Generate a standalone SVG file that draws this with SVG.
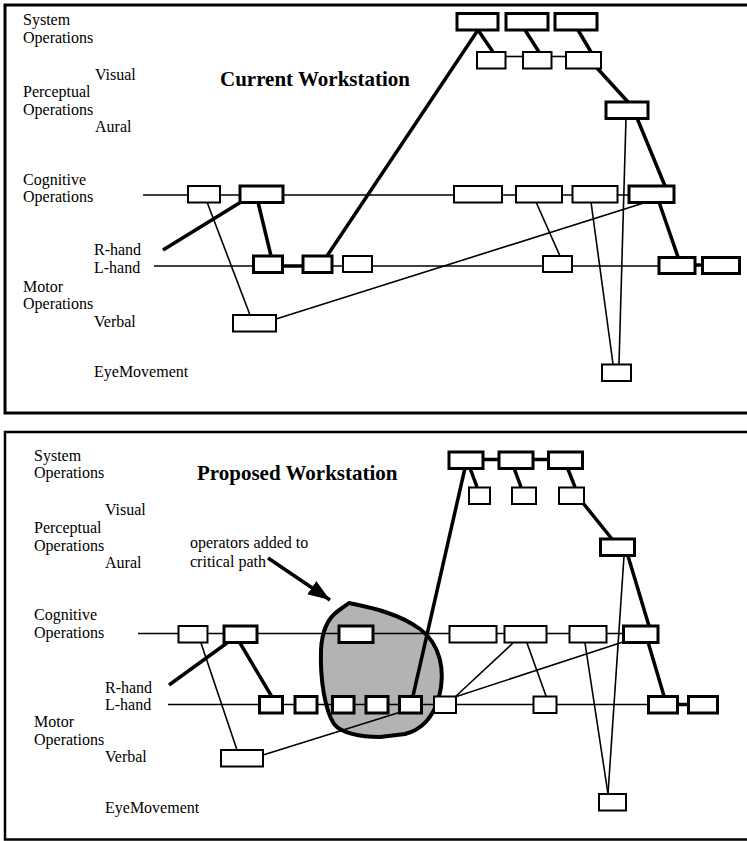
<svg xmlns="http://www.w3.org/2000/svg" width="747" height="841" viewBox="0 0 747 841">
<style>
.t{font-family:"Liberation Serif","Times New Roman",serif;font-size:16px;fill:#000}
.h{font-family:"Liberation Serif","Times New Roman",serif;font-size:21px;font-weight:bold;fill:#000}
.n{fill:#fff;stroke:#000;stroke-width:2}
.nt{fill:#fff;stroke:#000;stroke-width:3}
.l{stroke:#000;stroke-width:1.6;fill:none}
.lt{stroke:#000;stroke-width:3.5;fill:none}
.frame{fill:none;stroke:#000;stroke-width:3}
</style>
<defs>
<marker id="ah" markerUnits="userSpaceOnUse" markerWidth="24" markerHeight="20" viewBox="0 0 24 20" refX="22" refY="10" orient="auto">
<path d="M0,2 L22,10 L0,18 Z" fill="#000"/>
</marker>
</defs>
<rect x="0" y="0" width="747" height="841" fill="#fff"/>

<!-- frames -->
<g id="frames">
<rect class="frame" x="5" y="5" width="760" height="408"/>
<rect x="5" y="432" width="760" height="407.5" fill="none" stroke="#000" stroke-width="2.5"/>
</g>

<!-- ===== TOP PANEL LABELS ===== -->
<g id="top-labels">
<text class="t" x="23" y="25">System</text>
<text class="t" x="23" y="43">Operations</text>
<text class="t" x="95" y="80">Visual</text>
<text class="t" x="23" y="97">Perceptual</text>
<text class="t" x="23" y="115">Operations</text>
<text class="t" x="95" y="132">Aural</text>
<text class="t" x="23" y="185">Cognitive</text>
<text class="t" x="23" y="202">Operations</text>
<text class="t" x="94" y="255">R-hand</text>
<text class="t" x="94" y="273">L-hand</text>
<text class="t" x="23" y="292">Motor</text>
<text class="t" x="23" y="309">Operations</text>
<text class="t" x="94" y="327">Verbal</text>
<text class="t" x="94" y="377">EyeMovement</text>
<text class="h" x="220" y="86">Current Workstation</text>
</g>

<!-- ===== TOP PANEL CONNECTORS ===== -->
<g id="top-connectors">
<line class="l" x1="143" y1="195" x2="629" y2="195"/>
<line class="l" x1="154" y1="266" x2="659" y2="266"/>
<line class="lt" x1="283" y1="266" x2="303" y2="266"/>
<line class="lt" x1="695" y1="265" x2="702" y2="265"/>
<line class="l" x1="505" y1="56.5" x2="523" y2="56.5"/>
<line class="l" x1="551" y1="56.5" x2="566" y2="56.5"/>
<line class="lt" x1="478" y1="30" x2="493" y2="52"/>
<line class="lt" x1="525" y1="30" x2="539" y2="52"/>
<line class="lt" x1="578" y1="30" x2="591" y2="52"/>
<line class="lt" x1="478" y1="30" x2="327" y2="256"/>
<line class="lt" x1="597" y1="68" x2="628" y2="102"/>
<line class="l" x1="626" y1="118" x2="619" y2="364"/>
<line class="lt" x1="637" y1="118" x2="665" y2="186"/>
<line class="l" x1="207" y1="202" x2="250" y2="315"/>
<line class="lt" x1="241" y1="202" x2="163" y2="250"/>
<line class="lt" x1="258" y1="202" x2="271" y2="256"/>
<line class="l" x1="276" y1="319" x2="650" y2="201"/>
<line class="l" x1="536" y1="202" x2="560" y2="256"/>
<line class="l" x1="591" y1="202" x2="613" y2="364"/>
<line class="lt" x1="659" y1="202" x2="678" y2="257"/>
</g>

<!-- ===== TOP PANEL NODES ===== -->
<g id="top-sys1"><rect class="nt" x="457" y="13.5" width="41" height="16.5"/></g>
<g id="top-sys2"><rect class="nt" x="506" y="13.5" width="42" height="16.5"/></g>
<g id="top-sys3"><rect class="nt" x="555" y="13.5" width="42" height="16.5"/></g>
<g id="top-vis1"><rect class="n" x="477" y="52" width="28.5" height="16.5"/></g>
<g id="top-vis2"><rect class="n" x="523" y="52" width="28.5" height="16.5"/></g>
<g id="top-vis3"><rect class="n" x="566" y="52" width="35" height="16.5"/></g>
<g id="top-aural"><rect class="nt" x="606" y="102" width="42" height="16.5"/></g>
<g id="top-cogA"><rect class="n" x="188" y="186" width="32" height="16.5"/></g>
<g id="top-cogB"><rect class="nt" x="240" y="186" width="43" height="16.5"/></g>
<g id="top-cogC"><rect class="n" x="454" y="186" width="48" height="16.5"/></g>
<g id="top-cogD"><rect class="n" x="516" y="186" width="46" height="16.5"/></g>
<g id="top-cogE"><rect class="n" x="572.5" y="186" width="45" height="16.5"/></g>
<g id="top-cogF"><rect class="nt" x="629" y="186" width="45" height="16.5"/></g>
<g id="top-lhG"><rect class="nt" x="253.5" y="256" width="29" height="16.5"/></g>
<g id="top-lhH"><rect class="nt" x="303" y="256" width="29" height="16.5"/></g>
<g id="top-lhI"><rect class="n" x="343" y="256" width="29" height="16"/></g>
<g id="top-lhJ"><rect class="n" x="543" y="256" width="29" height="16"/></g>
<g id="top-lhK"><rect class="nt" x="659" y="257.5" width="36" height="16"/></g>
<g id="top-lhL"><rect class="nt" x="702.5" y="257.5" width="37" height="16"/></g>
<g id="top-verbal"><rect class="n" x="233" y="315" width="43" height="16.5"/></g>
<g id="top-eye"><rect class="n" x="602" y="364.5" width="29" height="16.5"/></g>

<!-- ===== BOTTOM PANEL LABELS ===== -->
<g id="bottom-labels">
<text class="t" x="34" y="461">System</text>
<text class="t" x="34" y="478">Operations</text>
<text class="t" x="105" y="515">Visual</text>
<text class="t" x="34" y="533">Perceptual</text>
<text class="t" x="34" y="551">Operations</text>
<text class="t" x="105" y="568">Aural</text>
<text class="t" x="34" y="620">Cognitive</text>
<text class="t" x="34" y="638">Operations</text>
<text class="t" x="105" y="693">R-hand</text>
<text class="t" x="105" y="710">L-hand</text>
<text class="t" x="34" y="727">Motor</text>
<text class="t" x="34" y="745">Operations</text>
<text class="t" x="105" y="762">Verbal</text>
<text class="t" x="105" y="813">EyeMovement</text>
<text class="h" x="197" y="480">Proposed Workstation</text>
<text class="t" x="190" y="548">operators added to</text>
<text class="t" x="190" y="567">critical path</text>
</g>

<!-- highlighted region -->
<g id="critical-region">
<path d="M349,603 C 362,606 395,611 420,629 C 440,644 446,670 439,697 C 433,718 421,730 405,734 L 380,737 C 360,737 341,733 334,724 C 325,710 320,680 321,650 C 322,630 328,618 338,611 Z" fill="#b3b3b3" stroke="#000" stroke-width="4" stroke-linejoin="round"/>
</g>
<g id="annotation-arrow">
<line x1="268" y1="558" x2="330" y2="600" stroke="#000" stroke-width="3.5" marker-end="url(#ah)"/>
</g>

<!-- ===== BOTTOM PANEL CONNECTORS ===== -->
<g id="bottom-connectors">
<line class="l" x1="138" y1="633.5" x2="624" y2="633.5"/>
<line class="l" x1="168" y1="704.5" x2="648" y2="704.5"/>
<line class="lt" x1="677" y1="704.5" x2="689" y2="704.5"/>
<line class="lt" x1="483" y1="459.5" x2="499" y2="459.5"/>
<line class="lt" x1="533" y1="459.5" x2="549" y2="459.5"/>
<line class="lt" x1="470" y1="468" x2="477" y2="487"/>
<line class="lt" x1="514" y1="468" x2="521" y2="487"/>
<line class="lt" x1="567.5" y1="468" x2="575" y2="487"/>
<line class="lt" x1="465" y1="468" x2="413" y2="696"/>
<line class="lt" x1="583" y1="503" x2="612" y2="539"/>
<line class="l" x1="624" y1="556" x2="608" y2="794"/>
<line class="lt" x1="628" y1="556" x2="649" y2="626"/>
<line class="lt" x1="648" y1="642" x2="664" y2="696"/>
<line class="l" x1="585" y1="643" x2="608" y2="794"/>
<line class="l" x1="513" y1="643" x2="455" y2="697"/>
<line class="l" x1="626" y1="641" x2="455" y2="697"/>
<line class="l" x1="527" y1="643" x2="546" y2="696"/>
<line class="l" x1="263" y1="755" x2="404" y2="711"/>
<line class="l" x1="201" y1="643" x2="237" y2="750"/>
<line class="lt" x1="227" y1="643" x2="169" y2="685"/>
<line class="lt" x1="240" y1="643" x2="272" y2="697"/>
</g>

<!-- ===== BOTTOM PANEL NODES ===== -->
<g id="bot-sys1"><rect class="nt" x="449" y="452" width="34" height="16.5"/></g>
<g id="bot-sys2"><rect class="nt" x="499" y="452" width="34" height="16.5"/></g>
<g id="bot-sys3"><rect class="nt" x="548.5" y="452" width="34" height="16.5"/></g>
<g id="bot-vis1"><rect class="n" x="469" y="487.5" width="21" height="16.5"/></g>
<g id="bot-vis2"><rect class="n" x="512" y="487.5" width="24" height="16.5"/></g>
<g id="bot-vis3"><rect class="n" x="559" y="487.5" width="25" height="16.5"/></g>
<g id="bot-aural"><rect class="nt" x="600.5" y="539" width="34" height="16.5"/></g>
<g id="bot-cogA"><rect class="n" x="178.5" y="626" width="29" height="16.5"/></g>
<g id="bot-cogB"><rect class="nt" x="224" y="626" width="33" height="16.5"/></g>
<g id="bot-cogX"><rect class="nt" x="339" y="626" width="34" height="16.5"/></g>
<g id="bot-cogC"><rect class="n" x="449.5" y="626" width="47" height="16.5"/></g>
<g id="bot-cogD"><rect class="n" x="504.5" y="626" width="42" height="16.5"/></g>
<g id="bot-cogE"><rect class="n" x="569.5" y="626" width="37" height="16.5"/></g>
<g id="bot-cogF"><rect class="nt" x="623.5" y="626" width="34.5" height="16.5"/></g>
<g id="bot-lhG"><rect class="nt" x="259.5" y="696.5" width="23" height="16.5"/></g>
<g id="bot-lhH"><rect class="nt" x="295" y="696.5" width="22" height="16.5"/></g>
<g id="bot-lhI"><rect class="nt" x="332.5" y="696.5" width="21.5" height="16.5"/></g>
<g id="bot-lhJ"><rect class="nt" x="366" y="696.5" width="22" height="16.5"/></g>
<g id="bot-lhK2"><rect class="nt" x="399.5" y="696.5" width="22" height="16.5"/></g>
<g id="bot-lhM"><rect class="n" x="434" y="696.5" width="22" height="16.5"/></g>
<g id="bot-lhN"><rect class="n" x="533.5" y="696.5" width="23" height="16.5"/></g>
<g id="bot-lhK"><rect class="nt" x="648.5" y="696.5" width="29" height="16.5"/></g>
<g id="bot-lhL"><rect class="nt" x="688.5" y="696.5" width="29" height="16.5"/></g>
<g id="bot-verbal"><rect class="n" x="221" y="750" width="42" height="16.5"/></g>
<g id="bot-eye"><rect class="n" x="599" y="794" width="27" height="16.5"/></g>
</svg>
